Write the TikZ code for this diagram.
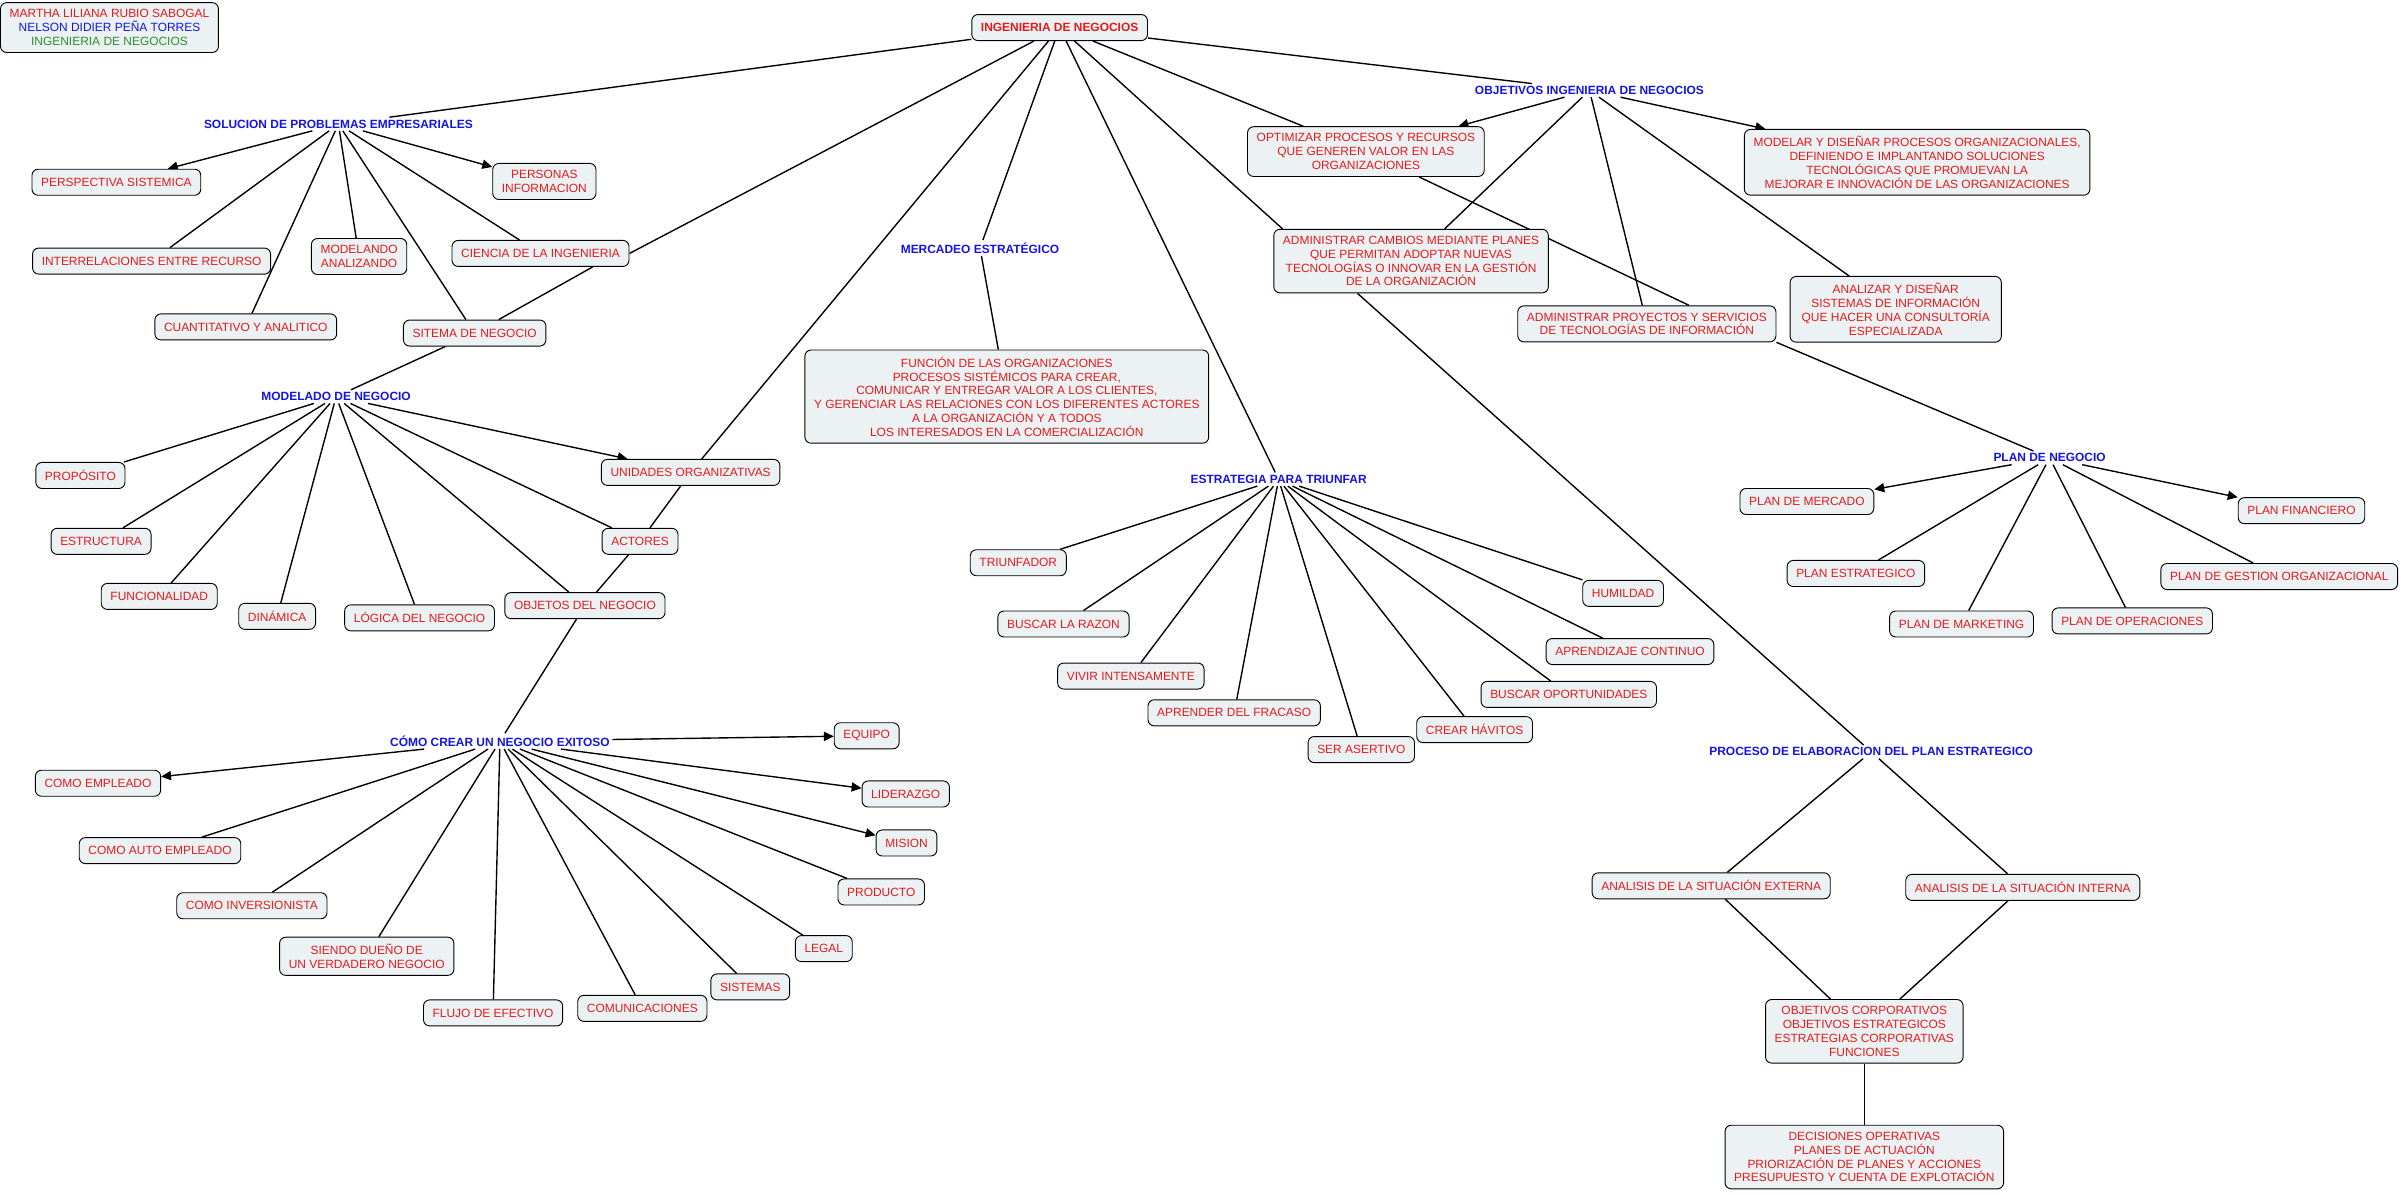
\documentclass[tikz,border=0pt]{standalone}
\usepackage{fontspec}
\setmainfont{Liberation Sans}
\usetikzlibrary{arrows.meta,positioning,backgrounds}

\definecolor{rojo}{RGB}{230,25,25}
\definecolor{azul}{RGB}{20,20,225}
\definecolor{verde}{RGB}{40,145,40}
\definecolor{fondo}{RGB}{236,242,244}

\tikzset{
  concepto/.style={draw, line width=0.6pt, rounded corners=4pt, fill=fondo, text=rojo, align=center,
    font=\fontsize{7.8}{9}\selectfont, inner xsep=6pt, inner ysep=4.5pt, minimum height=17pt},
  enlace/.style={text=azul, font=\fontsize{7.8}{9}\selectfont\bfseries, inner sep=1.5pt},
  linea/.style={line width=0.9pt},
  flecha/.style={line width=0.9pt, -{Triangle[length=6.5pt,width=6pt]}},
}

\begin{document}
\begin{tikzpicture}[x=1pt,y=-1pt]
    \useasboundingbox (0,0) rectangle (1568,780);

    % Autores
    \node[concepto, text=black] (autores) at (71.5,18) {\textcolor{rojo}{MARTHA LILIANA RUBIO SABOGAL}\\\textcolor{azul}{NELSON DIDIER PEÑA TORRES}\\\textcolor{verde}{INGENIERIA DE NEGOCIOS}};

    % Raiz
    \node[concepto, font=\fontsize{7.8}{9}\selectfont\bfseries] (ing) at (692,18) {INGENIERIA DE NEGOCIOS};

    % Solucion de problemas
    \node[enlace] (solucion) at (221,81) {SOLUCION DE PROBLEMAS EMPRESARIALES};
    \node[concepto] (perspectiva) at (76,119) {PERSPECTIVA SISTEMICA};
    \node[concepto] (personas) at (355.5,118.5) {PERSONAS\\INFORMACION};
    \node[concepto] (interrel) at (99,170.5) {INTERRELACIONES ENTRE RECURSO};
    \node[concepto] (modelando) at (234.5,167.5) {MODELANDO\\ANALIZANDO};
    \node[concepto] (ciencia) at (353,165.5) {CIENCIA DE LA INGENIERIA};
    \node[concepto] (cuantitativo) at (160.5,213.5) {CUANTITATIVO Y ANALITICO};
    \node[concepto] (sitema) at (310,217.5) {SITEMA DE NEGOCIO};

    % Modelado
    \node[enlace] (modelado) at (219.5,259) {MODELADO DE NEGOCIO};
    \node[concepto] (proposito) at (52.5,310.5) {PROPÓSITO};
    \node[concepto] (estructura) at (66,353.5) {ESTRUCTURA};
    \node[concepto] (funcionalidad) at (104,389.5) {FUNCIONALIDAD};
    \node[concepto] (dinamica) at (181,402.5) {DINÁMICA};
    \node[concepto] (logica) at (274,403.5) {LÓGICA DEL NEGOCIO};
    \node[concepto] (unidades) at (451,308.5) {UNIDADES ORGANIZATIVAS};
    \node[concepto] (actores) at (418,353.5) {ACTORES};
    \node[concepto] (objetos) at (382,395.5) {OBJETOS DEL NEGOCIO};

    % Como crear
    \node[enlace] (como) at (326.5,484) {CÓMO CREAR UN NEGOCIO EXITOSO};
    \node[concepto] (equipo) at (566,480.5) {EQUIPO};
    \node[concepto] (empleado) at (64,511.5) {COMO EMPLEADO};
    \node[concepto] (liderazgo) at (591.5,518.5) {LIDERAZGO};
    \node[concepto] (mision) at (592,550.5) {MISION};
    \node[concepto] (autoempleado) at (104.5,555.5) {COMO AUTO EMPLEADO};
    \node[concepto] (producto) at (575.5,582.5) {PRODUCTO};
    \node[concepto] (inversionista) at (164.5,591.5) {COMO INVERSIONISTA};
    \node[concepto] (dueno) at (239.5,624.5) {SIENDO DUEÑO DE\\UN VERDADERO NEGOCIO};
    \node[concepto] (legal) at (538,619.5) {LEGAL};
    \node[concepto] (sistemas) at (490,644.5) {SISTEMAS};
    \node[concepto] (comunicaciones) at (419.5,658.5) {COMUNICACIONES};
    \node[concepto] (flujo) at (322,661.5) {FLUJO DE EFECTIVO};

    % Mercadeo
    \node[enlace] (mercadeo) at (640,162) {MERCADEO ESTRATÉGICO};
    \node[concepto] (funcion) at (657.5,259) {FUNCIÓN DE LAS ORGANIZACIONES\\PROCESOS SISTÉMICOS PARA CREAR,\\COMUNICAR Y ENTREGAR VALOR A LOS CLIENTES,\\Y GERENCIAR LAS RELACIONES CON LOS DIFERENTES ACTORES\\A LA ORGANIZACIÓN Y A TODOS\\LOS INTERESADOS EN LA COMERCIALIZACIÓN};

    % Estrategia
    \node[enlace] (estrategia) at (835,313) {ESTRATEGIA PARA TRIUNFAR};
    \node[concepto] (triunfador) at (665,367.5) {TRIUNFADOR};
    \node[concepto] (razon) at (694.5,407.5) {BUSCAR LA RAZON};
    \node[concepto] (vivir) at (738.5,441.5) {VIVIR INTENSAMENTE};
    \node[concepto] (fracaso) at (806,465.5) {APRENDER DEL FRACASO};
    \node[concepto] (asertivo) at (889,489.5) {SER ASERTIVO};
    \node[concepto] (havitos) at (963,476.5) {CREAR HÁVITOS};
    \node[concepto] (oportunidades) at (1024.5,453.5) {BUSCAR OPORTUNIDADES};
    \node[concepto] (aprendizaje) at (1064.5,425.5) {APRENDIZAJE CONTINUO};
    \node[concepto] (humildad) at (1060,387.5) {HUMILDAD};

    % Objetivos
    \node[enlace] (objetivos) at (1038,59) {OBJETIVOS INGENIERIA DE NEGOCIOS};
    \node[concepto] (optimizar) at (892,99) {OPTIMIZAR PROCESOS Y RECURSOS\\QUE GENEREN VALOR EN LAS\\ORGANIZACIONES};
    \node[concepto] (modelar) at (1252,106) {MODELAR Y DISEÑAR PROCESOS ORGANIZACIONALES,\\DEFINIENDO E IMPLANTANDO SOLUCIONES\\TECNOLÓGICAS QUE PROMUEVAN LA\\MEJORAR E INNOVACIÓN DE LAS ORGANIZACIONES};
    \node[concepto] (admcambios) at (921.5,170.5) {ADMINISTRAR CAMBIOS MEDIANTE PLANES\\QUE PERMITAN ADOPTAR NUEVAS\\TECNOLOGÍAS O INNOVAR EN LA GESTIÓN\\DE LA ORGANIZACIÓN};
    \node[concepto] (admproyectos) at (1075.5,211.5) {ADMINISTRAR PROYECTOS Y SERVICIOS\\DE TECNOLOGÍAS DE INFORMACIÓN};
    \node[concepto, minimum width=138pt] (analizar) at (1238,202) {ANALIZAR Y DISEÑAR\\SISTEMAS DE INFORMACIÓN\\QUE HACER UNA CONSULTORÍA\\ESPECIALIZADA};

    % Plan de negocio
    \node[enlace] (plan) at (1338.5,299) {PLAN DE NEGOCIO};
    \node[concepto] (mercado) at (1180,327.5) {PLAN DE MERCADO};
    \node[concepto] (financiero) at (1503,333.5) {PLAN FINANCIERO};
    \node[concepto] (estrategico) at (1212,374.5) {PLAN ESTRATEGICO};
    \node[concepto] (gestion) at (1488.5,376.5) {PLAN DE GESTION ORGANIZACIONAL};
    \node[concepto] (marketing) at (1281,407.5) {PLAN DE MARKETING};
    \node[concepto] (operaciones) at (1392.5,405.5) {PLAN DE OPERACIONES};

    % Proceso
    \node[enlace] (proceso) at (1222,491) {PROCESO DE ELABORACION DEL PLAN ESTRATEGICO};
    \node[concepto] (externa) at (1117.5,578.5) {ANALISIS DE LA SITUACIÓN EXTERNA};
    \node[concepto] (interna) at (1321,579.5) {ANALISIS DE LA SITUACIÓN INTERNA};
    \node[concepto] (objcorp) at (1217.5,673.5) {OBJETIVOS CORPORATIVOS\\OBJETIVOS ESTRATEGICOS\\ESTRATEGIAS CORPORATIVAS\\FUNCIONES};
    \node[concepto, below=40pt of objcorp] (decisiones) {DECISIONES OPERATIVAS\\PLANES DE ACTUACIÓN\\PRIORIZACIÓN DE PLANES Y ACCIONES\\PRESUPUESTO Y CUENTA DE EXPLOTACIÓN};

    % Conexiones
    \begin{scope}[on background layer]
        \draw[linea] (ing) -- (solucion);
        \draw[linea] (ing) -- (ciencia.east);
        \foreach \n in {unidades,mercadeo,estrategia,optimizar,objetivos}
            \draw[linea] (ing) -- (\n);
        \draw[linea] (ing) -- ([xshift=6pt]admcambios.north west);

        \draw[flecha] (solucion) -- (perspectiva);
        \draw[flecha] (solucion) -- (personas);
        \foreach \n in {interrel,cuantitativo,modelando,sitema,ciencia}
            \draw[linea] (solucion) -- (\n);
        \draw[linea] ([xshift=-24pt]ciencia.south east) -- (sitema);
        \draw[linea] (sitema) -- (modelado);

        \foreach \n in {proposito,estructura,funcionalidad,dinamica,logica,objetos,actores}
            \draw[linea] (modelado) -- (\n);
        \draw[flecha] (modelado) -- (unidades);
        \draw[linea] (unidades) -- (actores);
        \draw[linea] (actores) -- (objetos);
        \draw[linea] (objetos) -- (como);

        \foreach \n in {equipo,empleado,liderazgo,mision}
            \draw[flecha] (como) -- (\n);
        \foreach \n in {autoempleado,inversionista,dueno,flujo,comunicaciones,sistemas,legal,producto}
            \draw[linea] (como) -- (\n);

        \draw[linea] (mercadeo) -- (funcion);
        \foreach \n in {triunfador,razon,vivir,fracaso,asertivo,havitos,oportunidades,aprendizaje,humildad}
            \draw[linea] (estrategia) -- (\n);

        \draw[flecha] (objetivos) -- (optimizar);
        \draw[flecha] (objetivos) -- (modelar);
        \foreach \n in {admcambios,admproyectos,analizar}
            \draw[linea] (objetivos) -- (\n);
        \draw[linea] (optimizar) -- ([xshift=-57pt]admproyectos.north east);
        \draw[linea] (admproyectos.south east) -- (plan);

        \draw[flecha] (plan) -- (mercado);
        \draw[flecha] (plan) -- (financiero);
        \foreach \n in {estrategico,marketing,operaciones,gestion}
            \draw[linea] (plan) -- (\n);

        \draw[linea] ([xshift=-35pt]admcambios.south) -- (proceso);
        \draw[linea] (proceso) -- (externa);
        \draw[linea] (proceso) -- (interna);
        \draw[linea] (externa) -- (objcorp);
        \draw[linea] (interna) -- (objcorp);
        \draw[linea] (objcorp) -- (decisiones);
    \end{scope}
\end{tikzpicture}
\end{document}
